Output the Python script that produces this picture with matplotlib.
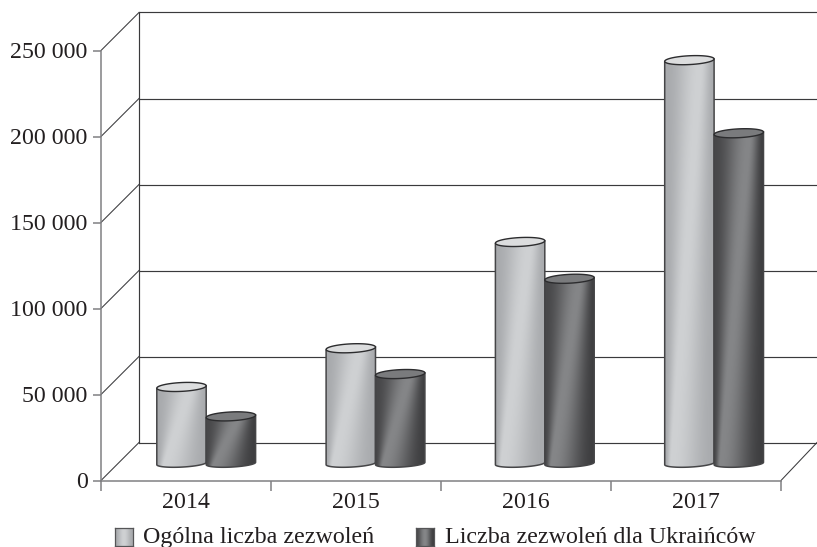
import numpy as np
import matplotlib
matplotlib.use("Agg")
import matplotlib.pyplot as plt
from matplotlib.patches import PathPatch
from matplotlib.path import Path
from matplotlib.colors import LinearSegmentedColormap

years = ["2014", "2015", "2016", "2017"]
ogolna = [44500, 67000, 128800, 234500]
ukraincy = [27400, 52000, 107400, 192000]
y_ticks = [0, 50000, 100000, 150000, 200000, 250000]
y_labels = ["0", "50 000", "100 000", "150 000", "200 000", "250 000"]
series_names = ["Ogólna liczba zezwoleń", "Liczba zezwoleń dla Ukraińców"]

W, H = 817, 547
L, R, B, T = 101, 781, 480.5, 50.5
plt.rcParams["font.family"] = ["Liberation Serif", "DejaVu Serif"]
fig = plt.figure(figsize=(W / 100, H / 100), dpi=100)
ax = fig.add_axes([L / W, 1 - B / H, (R - L) / W, (B - T) / H])
ax.set_xlim(0, 4)
ax.set_ylim(0, 250000)
PX = 4 / (R - L)
PY = 250000 / (B - T)
DX, DY = 38 * PX, 38 * PY

LINE = "#3a3a3c"
AXIS = "#808083"
TXT = "#231f20"

# walls and grid
for v in y_ticks:
    ax.plot([DX, 4 + 36 * PX], [v + DY, v + DY], color=LINE, lw=0.85, clip_on=False, zorder=1, solid_capstyle="butt")
    ax.plot([0, DX], [v, v + DY], color=LINE, lw=0.75, clip_on=False, zorder=1)
ax.plot([DX, DX], [DY, 250000 + DY], color=LINE, lw=0.85, clip_on=False, zorder=1)
ax.plot([4, 4 + 36 * PX], [0, DY], color=LINE, lw=0.75, clip_on=False, zorder=1)

# axes spines and ticks
for s in ("top", "right"):
    ax.spines[s].set_visible(False)
for s in ("left", "bottom"):
    ax.spines[s].set_color(AXIS)
    ax.spines[s].set_linewidth(1.1)
ax.patch.set_alpha(0)
ax.set_yticks(y_ticks)
ax.set_yticklabels(y_labels)
ax.set_xticks(range(5))
ax.set_xticklabels([])
ax.tick_params(axis="y", length=5.5, width=1.1, color=AXIS, labelsize=17.2, labelcolor=TXT, pad=4.2)
ax.tick_params(axis="x", length=7, width=1.1, color=AXIS)
for i, y in enumerate(years):
    ax.text(i + 0.5, -22 * PY, y, ha="center", va="center", fontsize=17.2, color=TXT, clip_on=False)

light_cm = LinearSegmentedColormap.from_list("l", ["#a8aaad", "#cfd1d3", "#a9abae"])
dark_cm = LinearSegmentedColormap.from_list("d", ["#48484a", "#858688", "#3e3e40"])


def gradient(peak_lo=0.12, peak_hi=0.72, n=120):
    u = np.linspace(0, 1, n)
    v = np.linspace(0, 1, n)
    uu, vv = np.meshgrid(u, v)
    p = peak_lo + (peak_hi - peak_lo) * vv
    left = np.clip(uu / p, 0, 1)
    right = np.clip((1 - uu) / (1 - p), 0, 1)
    s = np.where(uu < p, left, right)
    s = 0.5 - 0.5 * np.cos(np.pi * s)
    return np.where(uu < p, s * 0.5, 1 - s * 0.5)


GRAD = gradient()
RX, RY = 24.7 * PX, 4.4 * PY
RY_BOTTOM = 3.6 * PY
TILT = 1.2 * PY
BASE = 17.0 * PY
FIRST = 206.2
STEP = 169.3


def cylinder(cx, value, cmap, top_color):
    t = np.linspace(0, 2 * np.pi, 100)
    top = value + BASE
    ex = cx + RX * np.cos(t)
    ey_top = top + RY * np.sin(t) + TILT * np.cos(t)
    tb = np.linspace(np.pi, 2 * np.pi, 50)
    bx = cx + RX * np.cos(tb)
    by = BASE + RY_BOTTOM * np.sin(tb) + TILT * np.cos(tb)
    body = np.vstack([[cx - RX, top - TILT], np.column_stack([bx, by]), [cx + RX, top + TILT], [cx - RX, top - TILT]])
    path = Path(body)
    im = ax.imshow(GRAD, cmap=cmap, vmin=0, vmax=1, origin="lower", aspect="auto", interpolation="bilinear",
                   extent=[cx - RX, cx + RX, BASE - RY, top + RY], zorder=3)
    patch = PathPatch(path, transform=ax.transData, facecolor="none", edgecolor="#454547", lw=1.1, zorder=3.1)
    ax.add_patch(patch)
    im.set_clip_path(patch)
    ax.add_patch(PathPatch(Path(np.column_stack([ex, ey_top])), facecolor=top_color, edgecolor="#2c2c2e", lw=1.0, zorder=3.2))


for i in range(4):
    centre = (FIRST - L + i * STEP) * PX
    cylinder(centre - RX, ogolna[i], light_cm, "#dcddde")
    cylinder(centre + RX, ukraincy[i], dark_cm, "#7a7b7d")
ax.set_xlim(0, 4)
ax.set_ylim(0, 250000)

# legend
for x0, cm, name, tx in [(115, light_cm, series_names[0], 143), (416, dark_cm, series_names[1], 445)]:
    a = fig.add_axes([x0 / W, 1 - 546 / H, 18 / W, 18 / H])
    a.imshow(gradient(0.5, 0.5), cmap=cm, vmin=0, vmax=1, aspect="auto", origin="lower")
    a.set_xticks([])
    a.set_yticks([])
    for s in a.spines.values():
        s.set_color("#555557")
        s.set_linewidth(0.9)
    fig.text(tx / W, 1 - 537.5 / H, name, fontsize=17.3, color=TXT, va="center", ha="left")

fig.savefig("out.png", dpi=100, facecolor="white")
